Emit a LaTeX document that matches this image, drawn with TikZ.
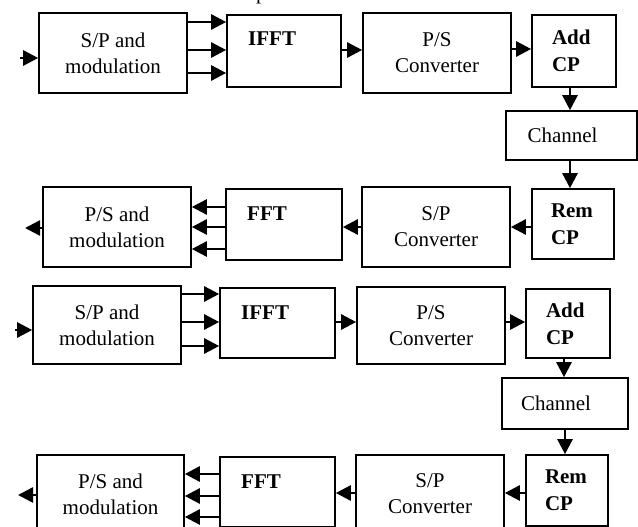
\documentclass[tikz,border=0pt]{standalone}
\usepackage{fontspec}
\setmainfont{Liberation Serif}
\usetikzlibrary{arrows.meta}

\begin{document}
\begin{tikzpicture}[x=1pt,y=-1pt]
\tikzstyle{blk}=[draw, line width=1.6pt, inner sep=0pt, align=center, font=\fontsize{21}{26}\selectfont]
\tikzstyle{boldtxt}=[inner sep=0pt, anchor=base west, font=\fontsize{21}{26}\selectfont\bfseries]
\tikzstyle{cp}=[blk, align=left, text width=44pt, font=\fontsize{21}{27}\selectfont\bfseries]
\tikzstyle{chan}=[blk, align=left, text width=88pt]
\tikzstyle{arr}=[line width=2.5pt, -{Triangle[length=15pt,width=15pt]}]
\useasboundingbox (0,0) rectangle (638,527);
\clip (0,0) rectangle (638,527);
\node[inner sep=0pt, anchor=base west, font=\fontsize{21}{26}\selectfont] (capp) at (256,0) {p};
\node[blk, minimum width=148pt, minimum height=80pt] (spm1) at (113,53) {S/P and\\modulation};
\node[blk, minimum width=114pt, minimum height=72pt] (ifft1) at (284,51) {};
\node[boldtxt] (ifft1txt) at (248,46) {IFFT};
\node[blk, minimum width=148pt, minimum height=80pt] (ps1) at (437,53) {P/S\\Converter};
\node[cp, minimum width=84pt, minimum height=72pt] (add1) at (574,51) {Add\\CP};
\node[chan, minimum width=131pt, minimum height=49pt] (chan1) at (571.5,135.5) {Channel};
\node[cp, minimum width=82pt, minimum height=70pt] (rem1) at (573,224) {Rem\\CP};
\node[blk, minimum width=148pt, minimum height=80pt] (sp1) at (436,227) {S/P\\Converter};
\node[blk, minimum width=116pt, minimum height=71pt] (fft1) at (284,224.5) {};
\node[boldtxt] (fft1txt) at (247,220) {FFT};
\node[blk, minimum width=148pt, minimum height=80pt] (psm1) at (117,227) {P/S and\\modulation};
\node[blk, minimum width=148pt, minimum height=78pt] (spm2) at (107,325) {S/P and\\modulation};
\node[blk, minimum width=115pt, minimum height=70pt] (ifft2) at (277.5,323) {};
\node[boldtxt] (ifft2txt) at (241,319) {IFFT};
\node[blk, minimum width=148pt, minimum height=77pt] (ps2) at (431,325.5) {P/S\\Converter};
\node[cp, minimum width=84pt, minimum height=69pt] (add2) at (568,323.5) {Add\\CP};
\node[chan, minimum width=126pt, minimum height=51pt] (chan2) at (565,403.5) {Channel};
\node[cp, minimum width=82pt, minimum height=71pt] (rem2) at (567,490.5) {Rem\\CP};
\node[blk, minimum width=148pt, minimum height=78pt] (sp2) at (430,494) {S/P\\Converter};
\node[blk, minimum width=115pt, minimum height=70pt] (fft2) at (277.5,492) {};
\node[boldtxt] (fft2txt) at (241,488) {FFT};
\node[blk, minimum width=147pt, minimum height=78pt] (psm2) at (110.5,494) {P/S and\\modulation};
\coordinate (in1) at (20,58);
\coordinate (out1) at (25,228);
\coordinate (in2) at (15,330);
\coordinate (out2) at (18,495);
\draw[arr] (in1) -- (spm1.west |- in1);
\foreach \y in {22,50,73} \draw[arr] (spm1.east |- 0,\y) -- (ifft1.west |- 0,\y);
\draw[arr] (ifft1.east |- 0,50) -- (ps1.west |- 0,50);
\draw[arr] (ps1.east |- 0,49) -- (add1.west |- 0,49);
\draw[arr] (add1.south -| 570,0) -- (chan1.north -| 570,0);
\draw[arr] (chan1.south -| 570,0) -- (rem1.north -| 570,0);
\draw[arr] (rem1.west |- 0,227) -- (sp1.east |- 0,227);
\draw[arr] (sp1.west |- 0,227) -- (fft1.east |- 0,227);
\foreach \y in {207,227,249} \draw[arr] (fft1.west |- 0,\y) -- (psm1.east |- 0,\y);
\draw[arr] (psm1.west |- out1) -- (out1);
\draw[arr] (in2) -- (spm2.west |- in2);
\foreach \y in {294,322,346} \draw[arr] (spm2.east |- 0,\y) -- (ifft2.west |- 0,\y);
\draw[arr] (ifft2.east |- 0,322) -- (ps2.west |- 0,322);
\draw[arr] (ps2.east |- 0,322) -- (add2.west |- 0,322);
\draw[arr] (add2.south -| 564,0) -- (chan2.north -| 564,0);
\draw[arr] (chan2.south -| 565,0) -- (rem2.north -| 565,0);
\draw[arr] (rem2.west |- 0,493) -- (sp2.east |- 0,493);
\draw[arr] (sp2.west |- 0,493) -- (fft2.east |- 0,493);
\foreach \y in {474,496,517} \draw[arr] (fft2.west |- 0,\y) -- (psm2.east |- 0,\y);
\draw[arr] (psm2.west |- out2) -- (out2);
\end{tikzpicture}
\end{document}
